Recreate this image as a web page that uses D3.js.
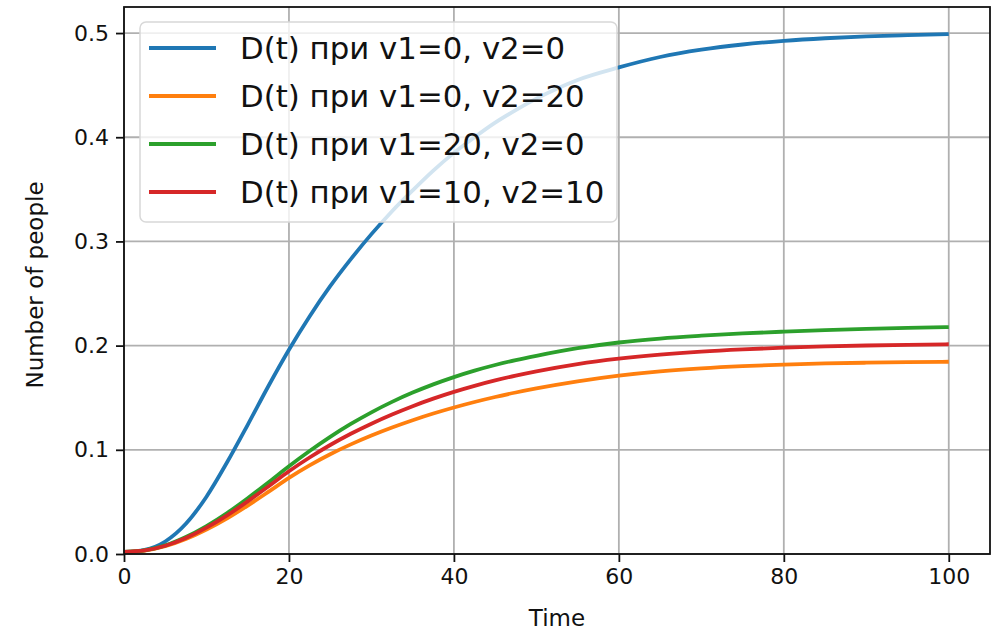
<!DOCTYPE html>
<html><head><meta charset="utf-8">
<script src="https://cdn.jsdelivr.net/npm/d3@7"></script>
<style>body{margin:0;background:#fff}svg{display:block}text{font-family:"DejaVu Sans",sans-serif;fill:#111}</style>
</head><body>
<svg id="c" width="992" height="630"></svg>
<script>
const times  = [0,2.5,5,7.5,10,12.5,15,17.5,20,22.5,25,27.5,30,32.5,35,37.5,40,42.5,45,47.5,50,55,60,65,70,75,80,85,90,95,100];
const blue   = [0.002,0.004,0.012,0.029,0.055,0.088,0.124,0.161,0.196,0.228,0.257,0.283,0.307,0.329,0.349,0.368,0.385,0.400,0.414,0.426,0.437,0.455,0.467,0.477,0.484,0.489,0.4925,0.495,0.4968,0.498,0.499];
const orange = [0.002,0.0033,0.0074,0.0143,0.0234,0.0342,0.0465,0.0596,0.0730,0.0850,0.0957,0.1052,0.1137,0.1214,0.1284,0.1348,0.1406,0.1459,0.1507,0.1550,0.1589,0.1657,0.1712,0.1753,0.1782,0.1803,0.1818,0.1829,0.1836,0.1841,0.1845];
const green  = [0.002,0.0035,0.0083,0.0163,0.0268,0.0393,0.0535,0.0687,0.0842,0.0988,0.1124,0.1248,0.1360,0.1460,0.1549,0.1628,0.1698,0.1760,0.1814,0.1861,0.1902,0.1975,0.2030,0.2068,0.2095,0.2117,0.2134,0.2148,0.2160,0.2170,0.2178];
const red    = [0.002,0.0034,0.0079,0.0154,0.0253,0.0371,0.0505,0.0648,0.0794,0.0926,0.1046,0.1154,0.1251,0.1339,0.1419,0.1491,0.1556,0.1614,0.1666,0.1712,0.1753,0.1823,0.1875,0.1914,0.1943,0.1964,0.1980,0.1992,0.2001,0.2008,0.2013];
const seriesNames = ["D(t) при v1=0, v2=0","D(t) при v1=0, v2=20","D(t) при v1=20, v2=0","D(t) при v1=10, v2=10"];
const seriesValues = [blue, orange, green, red];
const colors = ["#1f77b4","#ff7f0e","#2ca02c","#d62728"];
const xTicks = [0,20,40,60,80,100];
const yTicks = [0.0,0.1,0.2,0.3,0.4,0.5];
const xLabel = "Time", yLabel = "Number of people";

const svg = d3.select("#c");
const L=124, R=990, T=7, B=554;
const x = d3.scaleLinear().domain([0,105]).range([L,R]);
const y = d3.scaleLinear().domain([0,0.525]).range([B,T]);

// grid
const g = svg.append("g");
g.selectAll(".gx").data(xTicks).join("line").attr("x1",d=>x(d)).attr("x2",d=>x(d)).attr("y1",T).attr("y2",B).attr("stroke","#b0b0b0").attr("stroke-width",1.8);
g.selectAll(".gy").data(yTicks).join("line").attr("y1",d=>y(d)).attr("y2",d=>y(d)).attr("x1",L).attr("x2",R).attr("stroke","#b0b0b0").attr("stroke-width",1.8);

// lines
const line = d3.line().x((d,i)=>x(times[i])).y(d=>y(d)).curve(d3.curveMonotoneX);
svg.append("clipPath").attr("id","cp").append("rect").attr("x",L).attr("y",T).attr("width",R-L).attr("height",B-T);
svg.append("g").attr("clip-path","url(#cp)").selectAll("path").data(seriesValues).join("path")
  .attr("d",d=>line(d)).attr("fill","none").attr("stroke",(d,i)=>colors[i]).attr("stroke-width",3.8).attr("stroke-linecap","butt").attr("stroke-linejoin","round");

// axes
const xa = svg.append("g").attr("transform",`translate(0,${B})`).call(d3.axisBottom(x).tickValues(xTicks).tickFormat(d3.format("d")).tickSize(8).tickPadding(6));
const ya = svg.append("g").attr("transform",`translate(${L},0)`).call(d3.axisLeft(y).tickValues(yTicks).tickFormat(d3.format(".1f")).tickSize(8).tickPadding(7));
[xa,ya].forEach(a=>{a.select(".domain").remove();a.selectAll(".tick line").attr("stroke","#111").attr("stroke-width",1.8);a.selectAll("text").attr("font-size",22).attr("fill","#111").attr("font-family","DejaVu Sans");});
svg.append("rect").attr("x",L).attr("y",T).attr("width",R-L).attr("height",B-T).attr("fill","none").attr("stroke","#111").attr("stroke-width",1.8);

// axis labels
svg.append("text").attr("x",(L+R)/2).attr("y",626).attr("text-anchor","middle").attr("font-size",23).text(xLabel);
svg.append("text").attr("transform","translate(43,285) rotate(-90)").attr("text-anchor","middle").attr("font-size",23).text(yLabel);

// legend
const lg = svg.append("g");
lg.append("rect").attr("x",140).attr("y",22).attr("width",477).attr("height",200).attr("rx",6).attr("fill","#fff").attr("fill-opacity",0.8).attr("stroke","#d8d8d8").attr("stroke-width",1.5);
const rowY = [48,96,144,192];
seriesNames.forEach((n,i)=>{
  lg.append("line").attr("x1",149).attr("x2",216).attr("y1",rowY[i]).attr("y2",rowY[i]).attr("stroke",colors[i]).attr("stroke-width",3.8);
  lg.append("text").attr("x",240).attr("y",rowY[i]).attr("dy","0.36em").attr("font-size",30.8).text(n);
});
</script>
</body></html>
